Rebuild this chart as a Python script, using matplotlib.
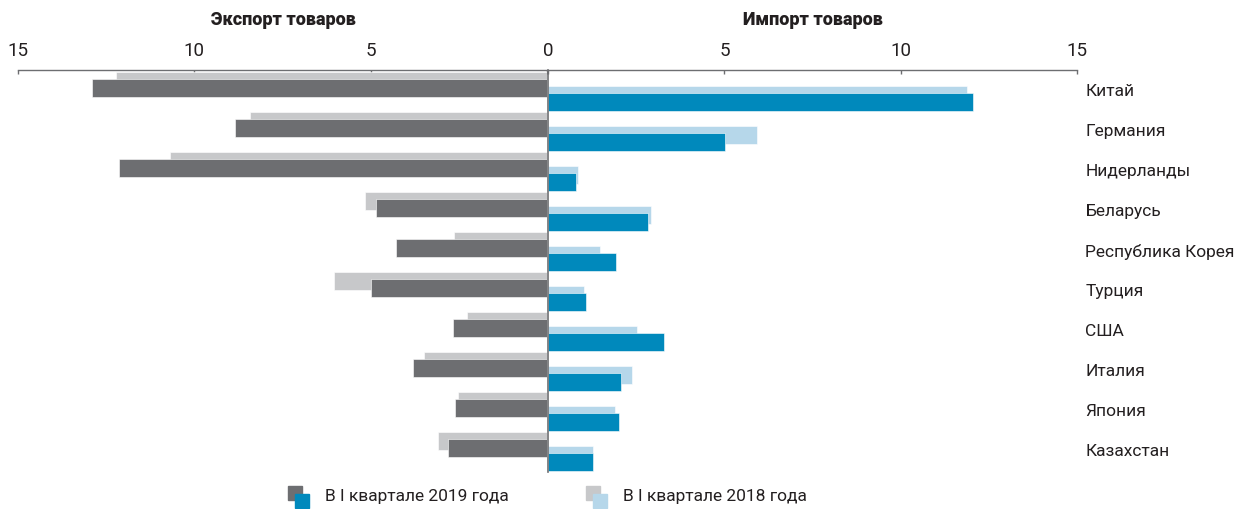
import matplotlib
matplotlib.use("Agg")
import matplotlib.pyplot as plt
import matplotlib.patches as mpatches
from matplotlib import font_manager
import numpy as np

# pick a narrow-ish sans if available
available = {f.name for f in font_manager.fontManager.ttflist}
family = "Liberation Sans Narrow" if "Liberation Sans Narrow" in available else "Roboto"
plt.rcParams["font.family"] = [family, "DejaVu Sans"]

countries = ["Китай", "Германия", "Нидерланды", "Беларусь", "Республика Корея",
             "Турция", "США", "Италия", "Япония", "Казахстан"]
export_2019 = [12.9, 8.85, 12.15, 4.86, 4.28, 5.0, 2.67, 3.81, 2.62, 2.81]
export_2018 = [12.22, 8.43, 10.7, 5.15, 2.65, 6.04, 2.26, 3.48, 2.53, 3.1]
import_2019 = [12.06, 5.03, 0.79, 2.83, 1.94, 1.07, 3.29, 2.08, 2.02, 1.27]
import_2018 = [11.87, 5.94, 0.84, 2.92, 1.48, 1.01, 2.53, 2.37, 1.89, 1.27]
ticks = [0, 5, 10, 15]

DARK_GRAY = "#6d6e71"
LIGHT_GRAY = "#c7c8ca"
BLUE = "#0089bc"
LIGHT_BLUE = "#b6d7ea"
TEXT = "#231f20"

W, H = 1237, 509
fig = plt.figure(figsize=(W / 100, H / 100), dpi=100)

top = 1 - 70 / H
bottom = 37 / H
ax_l = fig.add_axes([18 / W, bottom, 529 / W, top - bottom])
ax_r = fig.add_axes([548 / W, bottom, 529 / W, top - bottom])

y = np.arange(len(countries))
h = 0.45

ax_l.barh(y - 0.225, export_2018, height=h, color=LIGHT_GRAY, edgecolor="white", linewidth=0.4, zorder=2)
ax_l.barh(y - 0.05, export_2019, height=h, color=DARK_GRAY, edgecolor="white", linewidth=0.4, zorder=3)
ax_r.barh(y + 0.125, import_2018, height=h, color=LIGHT_BLUE, edgecolor="white", linewidth=0.4, zorder=2)
ax_r.barh(y + 0.3, import_2019, height=h, color=BLUE, edgecolor="white", linewidth=0.4, zorder=3)

for ax in (ax_l, ax_r):
    ax.set_ylim(9.55, -0.5)
    ax.set_xlim(0, 15)
    ax.xaxis.tick_top()
    ax.set_xticks(ticks)
    ax.tick_params(axis="x", direction="in", length=3, width=1, color=DARK_GRAY,
                   labelsize=13.5, labelcolor=TEXT, pad=7)
    for s in ("bottom", "left", "right"):
        ax.spines[s].set_visible(False)
    ax.spines["top"].set_color(DARK_GRAY)
    ax.spines["top"].set_linewidth(1)

ax_l.invert_xaxis()
ax_l.set_xticklabels(["", "5", "10", "15"])
ax_l.set_yticks([])

ax_r.spines["left"].set_visible(True)
ax_r.spines["left"].set_color(DARK_GRAY)
ax_r.spines["left"].set_linewidth(1.2)
ax_r.spines["left"].set_zorder(5)
ax_r.yaxis.tick_right()
ax_r.set_yticks(y)
ax_r.set_yticklabels(countries)
ax_r.tick_params(axis="y", length=0, pad=6, labelsize=12.5, labelcolor=TEXT)

fig.text(283 / W, 1 - 20 / H, "Экспорт товаров", ha="center", va="center",
         fontsize=13, fontweight="heavy", color=TEXT)
fig.text(813 / W, 1 - 20 / H, "Импорт товаров", ha="center", va="center",
         fontsize=13, fontweight="heavy", color=TEXT)

# legend drawn by hand: two overlapping squares per entry
legend_items = [("В I квартале 2019 года", DARK_GRAY, BLUE, 288),
                ("В I квартале 2018 года", LIGHT_GRAY, LIGHT_BLUE, 586)]
for label, c_back, c_front, x0 in legend_items:
    fig.patches.append(mpatches.Rectangle((x0 / W, 1 - 500 / H), 14 / W, 14 / H,
                                          color=c_back, transform=fig.transFigure))
    fig.patches.append(mpatches.Rectangle(((x0 + 7) / W, 1 - 508 / H), 14 / W, 14 / H,
                                          color=c_front, transform=fig.transFigure))
    fig.text((x0 + 37) / W, 1 - 497 / H, label, ha="left", va="center",
             fontsize=12.5, color=TEXT)

fig.savefig("out.png", dpi=100)
